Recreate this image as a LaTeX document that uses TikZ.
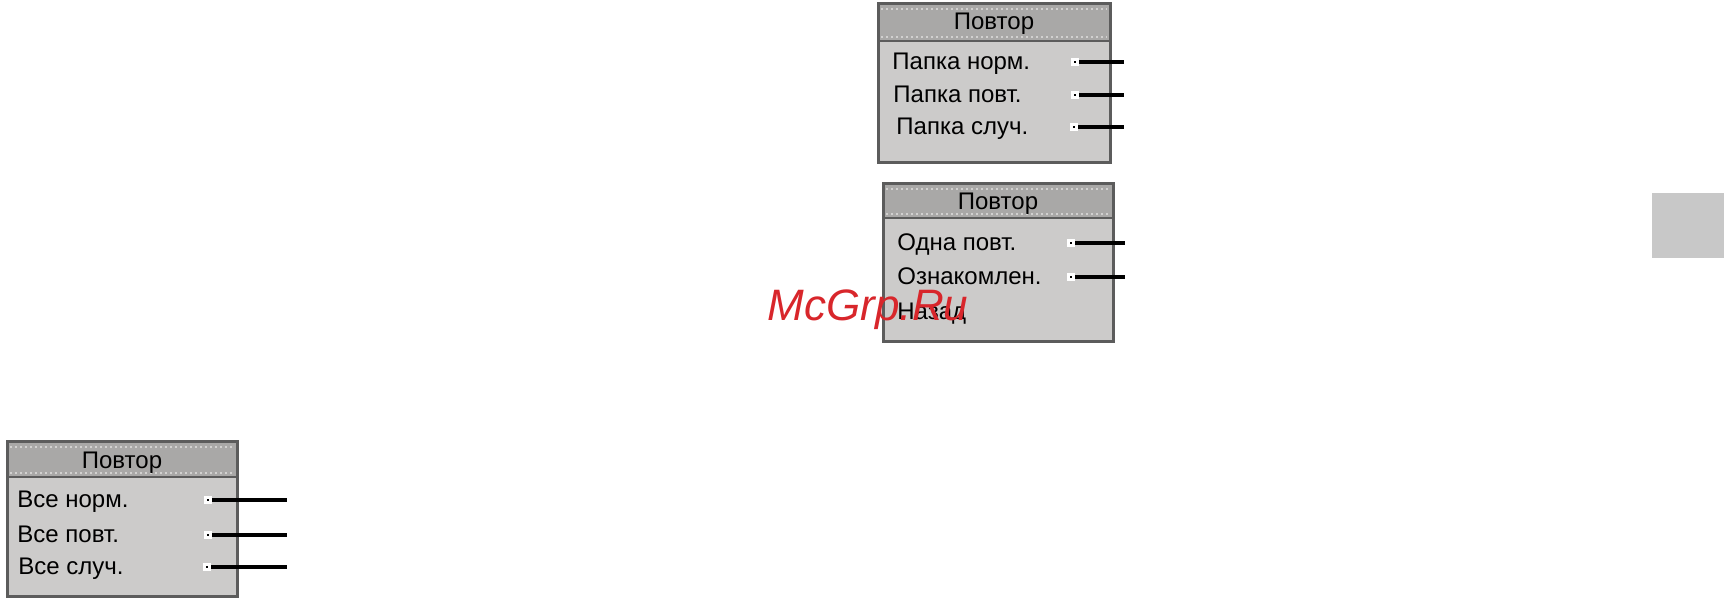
\documentclass[tikz,border=0pt]{standalone}
\usepackage{fontspec}
\setmainfont{Liberation Sans}

\definecolor{BoxFill}{HTML}{CCCBCA}
\definecolor{HeadFill}{HTML}{A9A8A7}
\definecolor{BoxEdge}{HTML}{5C5C5C}
\definecolor{HeadDots}{HTML}{D2D1D0}
\definecolor{Stamp}{HTML}{D8262B}
\definecolor{Side}{HTML}{C8C8C8}

\tikzset{
  item/.style={anchor=base west, inner sep=0pt, font=\fontsize{12}{14}\selectfont},
  ttl/.style={inner sep=0pt, font=\fontsize{12}{14}\selectfont},
  port/.style={fill=black, draw=white, line width=1.3pt, minimum size=2.7pt, inner sep=0pt},
  wire/.style={line width=1.8pt},
}

\begin{document}
\begin{tikzpicture}[x=0.5pt, y=-0.5pt]

 \useasboundingbox (0,0) rectangle (1724,608);

 %%%%%%%%%% Boxes %%%%%%%%%%
 \foreach \l/\t/\r/\h/\b in {878/4/1110/41/163, 883/184/1113/218/342, 7/442/237/477/597} {
   \fill [BoxFill] (\l,\t) rectangle (\r,\b);
   \fill [HeadFill] (\l,\t) rectangle (\r,\h);
   \draw [HeadDots, line width=0.8pt, dash pattern=on 1pt off 1.5pt] (\l+3,\t+5) -- (\r-3,\t+5);
   \draw [HeadDots, line width=0.8pt, dash pattern=on 1pt off 1.5pt] (\l+3,\h-4) -- (\r-3,\h-4);
   \draw [BoxEdge, line width=1pt] (\l,\h) -- (\r,\h);
   \draw [BoxEdge, line width=1.5pt] (\l,\t) rectangle (\r,\b);
 }

 %%%%%%%%%% Box Папка %%%%%%%%%%
 \node [ttl] (ttlA) at (994,24) {Повтор};
 \node [item] (normA) at (892,70) {Папка норм.};
 \node [item] (povtA) at (893,103) {Папка повт.};
 \node [item] (sluchA) at (896,135) {Папка случ.};
 \coordinate (endA1) at (1124,62);
 \coordinate (endA2) at (1124,95);
 \coordinate (endA3) at (1124,127);
 \draw [wire] (1075,62) coordinate (a1) -- (endA1);
 \draw [wire] (1075,95) coordinate (a2) -- (endA2);
 \draw [wire] (1074,127) coordinate (a3) -- (endA3);
 \node [port] (portA1) at (a1) {};
 \node [port] (portA2) at (a2) {};
 \node [port] (portA3) at (a3) {};

 %%%%%%%%%% Box Одна %%%%%%%%%%
 \node [ttl] (ttlB) at (998,204) {Повтор};
 \node [item] (odnaB) at (897,251) {Одна повт.};
 \node [item] (oznakB) at (897,285) {Ознакомлен.};
 \node [item] (nazadB) at (897,320) {Назад};
 \coordinate (endB1) at (1125,243);
 \coordinate (endB2) at (1125,277);
 \draw [wire] (1071,243) coordinate (b1) -- (endB1);
 \draw [wire] (1071,277) coordinate (b2) -- (endB2);
 \node [port] (portB1) at (b1) {};
 \node [port] (portB2) at (b2) {};

 %%%%%%%%%% Box Все %%%%%%%%%%
 \node [ttl] (ttlC) at (122,463) {Повтор};
 \node [item] (normC) at (17,508) {Все норм.};
 \node [item] (povtC) at (17,543) {Все повт.};
 \node [item] (sluchC) at (18,575) {Все случ.};
 \coordinate (endC1) at (287,500);
 \coordinate (endC2) at (287,535);
 \coordinate (endC3) at (287,567);
 \draw [wire] (208,500) coordinate (c1) -- (endC1);
 \draw [wire] (208,535) coordinate (c2) -- (endC2);
 \draw [wire] (207,567) coordinate (c3) -- (endC3);
 \node [port] (portC1) at (c1) {};
 \node [port] (portC2) at (c2) {};
 \node [port] (portC3) at (c3) {};

 %%%%%%%%%% Side tab %%%%%%%%%%
 \fill [Side] (1652,193) rectangle (1724,258);

 %%%%%%%%%% Stamp %%%%%%%%%%
 \node [Stamp, inner sep=0pt, font=\fontsize{22}{24}\itshape] (stamp) at (868,310) {McGrp.Ru};

\end{tikzpicture}
\end{document}
